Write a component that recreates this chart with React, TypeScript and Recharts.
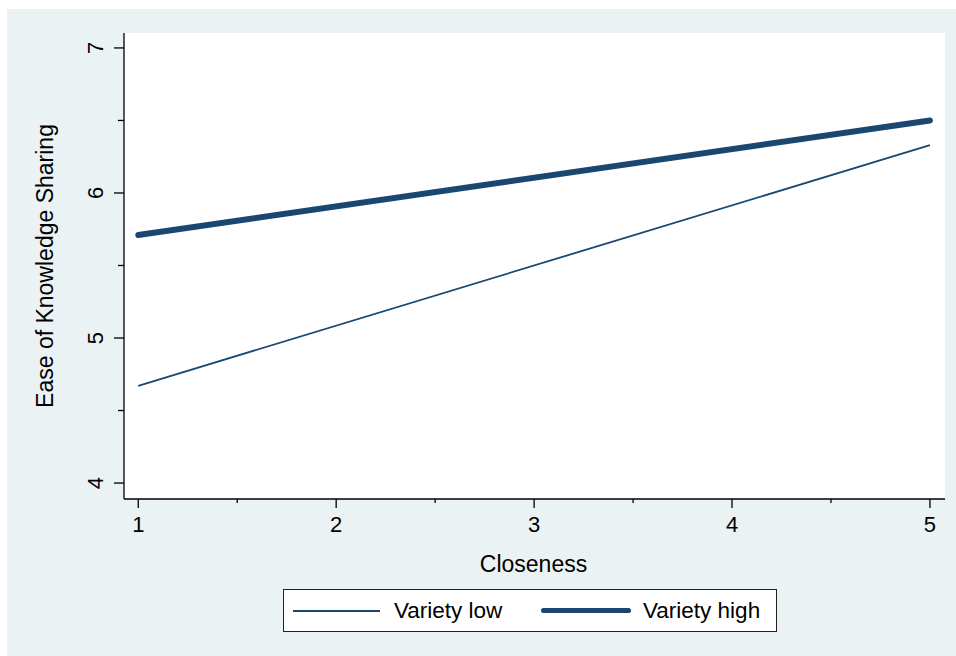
import React from 'react';
import { LineChart, Line, XAxis, YAxis, CartesianGrid, Legend } from 'recharts';

// values (fitted lines, endpoints only)
const closeness = [1, 5];
const varietyLow = [4.67, 6.33];
const varietyHigh = [5.71, 6.5];

const xTicks = [1, 1.5, 2, 2.5, 3, 3.5, 4, 4.5, 5];
const yTicks = [4, 4.5, 5, 5.5, 6, 6.5, 7];

const seriesNames = ['Variety low', 'Variety high'];

const data = closeness.map((c, i) => ({
    closeness: c,
    low: varietyLow[i],
    high: varietyHigh[i],
}));

const FONT = '"Liberation Sans", Arial, sans-serif';
const NAVY = '#1A476F';
const BG = '#EAF2F3';

function XTick(props: any) {
    const { x, y, payload } = props;
    const major = Number.isInteger(payload.value);
    return (
        <g>
            <line x1={x} x2={x} y1={y} y2={y + (major ? 9 : 4)} stroke="#000" strokeWidth={1.3} />
            {major && (
                <text x={x} y={y + 33} textAnchor="middle" fontSize={22} fontFamily={FONT} fill="#000">
                    {payload.value}
                </text>
            )}
        </g>
    );
}

function YTick(props: any) {
    const { x, y, payload } = props;
    const major = Number.isInteger(payload.value);
    return (
        <g>
            <line x1={x - (major ? 10 : 6)} x2={x} y1={y} y2={y} stroke="#000" strokeWidth={1.3} />
            {major && (
                <text
                    x={x - 21}
                    y={y}
                    transform={`rotate(-90, ${x - 21}, ${y})`}
                    textAnchor="middle"
                    fontSize={22}
                    fontFamily={FONT}
                    fill="#000"
                >
                    {payload.value}
                </text>
            )}
        </g>
    );
}

function XTitle(props: any) {
    const vb = props.viewBox;
    return (
        <text x={vb.x + vb.width / 2 - 1} y={vb.y + 73} textAnchor="middle" fontSize={23} fontFamily={FONT} fill="#000">
            Closeness
        </text>
    );
}

function YTitle(props: any) {
    const vb = props.viewBox;
    const tx = vb.x + vb.width - 71;
    const ty = vb.y + vb.height / 2;
    return (
        <text x={tx} y={ty} transform={`rotate(-90, ${tx}, ${ty})`} textAnchor="middle" fontSize={23} fontFamily={FONT} fill="#000">
            Ease of Knowledge Sharing
        </text>
    );
}

function LegendBox() {
    const text = { position: 'absolute' as const, top: 8, fontSize: 22.5, fontFamily: FONT, color: '#000', lineHeight: '26px' };
    return (
        <div
            style={{
                position: 'relative',
                width: 494,
                height: 43,
                boxSizing: 'border-box',
                border: '1.3px solid #222',
                background: '#fff',
            }}
        >
            <div style={{ position: 'absolute', left: 9, top: 20, width: 87, height: 1.6, background: NAVY }} />
            <div style={{ ...text, left: 110 }}>{seriesNames[0]}</div>
            <div style={{ position: 'absolute', left: 257, top: 18, width: 90, height: 5, borderRadius: 3, background: NAVY }} />
            <div style={{ ...text, left: 359 }}>{seriesNames[1]}</div>
        </div>
    );
}

export default function App() {
    return (
        <div style={{ position: 'absolute', left: 0, top: 0, width: 956, height: 656, background: '#fff' }}>
            <div style={{ position: 'absolute', left: 7, top: 9, width: 949, height: 647, background: BG }} />
            <div style={{ position: 'absolute', left: 0, top: 0 }}>
                <LineChart width={956} height={656} data={data} margin={{ top: 33, right: 11, left: 0, bottom: 0 }}>
                    <CartesianGrid fill="#fff" stroke="none" horizontal={false} vertical={false} />
                    <XAxis
                        dataKey="closeness"
                        type="number"
                        domain={[0.928, 5.076]}
                        allowDataOverflow
                        ticks={xTicks}
                        interval={0}
                        height={157}
                        tickSize={0}
                        tickMargin={0}
                        tickLine={false}
                        axisLine={{ stroke: '#000', strokeWidth: 1.3 }}
                        tick={(p: any) => <XTick {...p} />}
                        label={(p: any) => <XTitle {...p} />}
                    />
                    <YAxis
                        type="number"
                        domain={[3.89, 7.103]}
                        allowDataOverflow
                        ticks={yTicks}
                        interval={0}
                        width={124}
                        tickSize={0}
                        tickMargin={0}
                        tickLine={false}
                        axisLine={{ stroke: '#000', strokeWidth: 1.3 }}
                        tick={(p: any) => <YTick {...p} />}
                        label={(p: any) => <YTitle {...p} />}
                    />
                    <Legend
                        layout="vertical"
                        align="center"
                        verticalAlign="middle"
                        wrapperStyle={{ left: 283, top: 589, width: 494, height: 43 }}
                        content={() => <LegendBox />}
                    />
                    <Line
                        dataKey="low"
                        name={seriesNames[0]}
                        stroke={NAVY}
                        strokeWidth={1.8}
                        dot={false}
                        activeDot={false}
                        isAnimationActive={false}
                    />
                    <Line
                        dataKey="high"
                        name={seriesNames[1]}
                        stroke={NAVY}
                        strokeWidth={6}
                        strokeLinecap="round"
                        dot={false}
                        activeDot={false}
                        isAnimationActive={false}
                    />
                </LineChart>
            </div>
        </div>
    );
}
